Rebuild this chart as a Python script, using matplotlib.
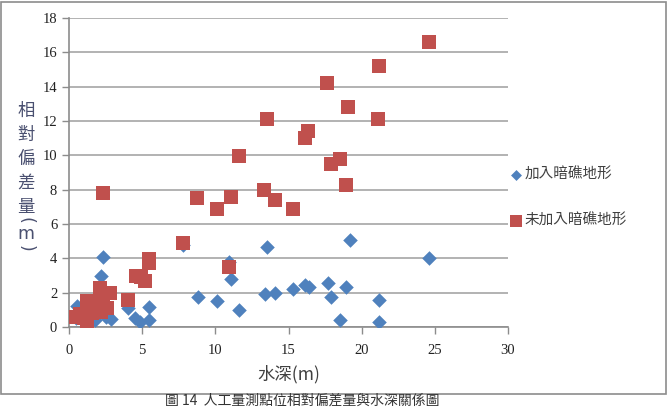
import matplotlib.pyplot as plt
from matplotlib.patches import Rectangle

# 加入暗礁地形 (blue diamonds)
with_reef_x = [24.6, 19.2, 13.5, 2.3, 2.2, 10.9, 11.1, 7.8, 8.8, 10.1, 11.6, 13.4,
               14.1, 15.3, 16.1, 16.4, 17.7, 17.9, 18.5, 18.9, 21.2, 21.2,
               2.9, 4.0, 4.5, 4.85, 5.5, 5.5, 0.55, 1.0, 1.5, 2.0, 2.5, 1.8, 0.5]
with_reef_y = [4.0, 5.05, 4.65, 4.1, 3.0, 3.8, 2.8, 4.8, 1.75, 1.5, 1.0, 1.9,
               2.0, 2.2, 2.45, 2.35, 2.55, 1.75, 0.4, 2.35, 1.6, 0.3,
               0.45, 1.1, 0.55, 0.3, 1.15, 0.4, 1.2, 0.6, 0.9, 1.3, 0.6, 0.4, 0.5]

# 未加入暗礁地形 (red squares)
no_reef_x = [24.6, 21.2, 21.1, 19.1, 17.6, 13.5, 11.6, 16.3, 16.1, 18.5, 17.9,
             18.9, 13.3, 14.1, 15.3, 11.1, 8.75, 10.1, 7.8, 10.9, 2.3,
             5.5, 5.45, 4.6, 4.9, 5.2, 4.0,
             0.4, 0.75, 1.0, 1.2, 1.2, 1.6, 1.9, 2.1, 2.3, 2.8, 2.6, 1.6, 2.2]
no_reef_y = [16.6, 15.2, 12.1, 12.8, 14.2, 12.1, 9.95, 11.4, 11.0, 9.8, 9.5,
             8.3, 8.0, 7.4, 6.9, 7.6, 7.5, 6.9, 4.9, 3.5, 7.8,
             3.95, 3.7, 3.0, 2.9, 2.7, 1.6,
             0.6, 0.75, 0.5, 0.3, 1.5, 1.45, 1.2, 2.3, 1.8, 2.0, 1.1, 0.8, 0.9]

x_ticks = [0, 5, 10, 15, 20, 25, 30]
y_ticks = [0, 2, 4, 6, 8, 10, 12, 14, 16, 18]
y_label_chars = ['相', '對', '偏', '差', '量']

blue = '#4F81BD'
red = '#C0504D'
grey = '#8C8C8C'
cjk = ['Noto Sans CJK TC', 'DejaVu Sans']

# tick numbers are in a Times-like serif
plt.rcParams['font.family'] = ['Liberation Serif']

fig = plt.figure(figsize=(6.69, 4.09), dpi=100)
W, H = 669, 409

# outer frame of the chart object
fig.patches.append(Rectangle((1 / W, 1 - 394 / H), 665 / W, 392 / H,
                             transform=fig.transFigure, fill=False,
                             edgecolor='#8C8C8C', linewidth=1.2))

ax = fig.add_axes([69 / W, 1 - 327 / H, 439 / W, 309 / H])
ax.scatter(with_reef_x, with_reef_y, marker='D', s=55, color=blue,
           linewidths=0, label='加入暗礁地形', zorder=3)
ax.scatter(no_reef_x, no_reef_y, marker='s', s=115, color=red,
           linewidths=0, label='未加入暗礁地形', zorder=4)

ax.set_xlim(0, 30)
ax.set_ylim(0, 18)
ax.set_xticks(x_ticks)
ax.set_yticks(y_ticks)
ax.yaxis.grid(True, color='#A6A6A6', linewidth=1.2)
ax.set_axisbelow(True)
for s in ['top', 'right']:
    ax.spines[s].set_visible(False)
for s in ['left', 'bottom']:
    ax.spines[s].set_color(grey)
    ax.spines[s].set_linewidth(1.2)
ax.tick_params(colors=grey, length=5, width=1, labelcolor='#222222',
               labelsize=10.5)
ax.tick_params(axis='x', pad=7)

ax.set_xlabel('水深(m)', family=cjk, fontsize=12.5, color='#404040', labelpad=6)

# vertical y label, one character per line
ylab_x = 26 / W
for i, ch in enumerate(y_label_chars):
    fig.text(ylab_x, 1 - (111 + i * 24) / H, ch, family=cjk, fontsize=12.5,
             color='#4A5070', ha='center', va='center')
fig.text(ylab_x, 1 - 220 / H, '(', family='DejaVu Sans', fontsize=12.5,
         color='#4A5070', ha='center', va='center', rotation=-90)
fig.text(ylab_x, 1 - 234 / H, 'm', family='DejaVu Sans', fontsize=12.5,
         color='#4A5070', ha='center', va='center')
fig.text(ylab_x, 1 - 248 / H, ')', family='DejaVu Sans', fontsize=12.5,
         color='#4A5070', ha='center', va='center', rotation=-90)

leg = ax.legend(loc='upper left', bbox_to_anchor=(503 / W, 1 - 162 / H),
                bbox_transform=fig.transFigure, frameon=False,
                prop={'family': cjk, 'size': 10.5}, labelspacing=2.2,
                handletextpad=0.1, handlelength=1.0, borderaxespad=0,
                scatterpoints=1, markerscale=0.75)
for t in leg.get_texts():
    t.set_color('#404040')

# figure caption below the frame
fig.text(165 / W, 1 / H, '圖 14  人工量測點位相對偏差量與水深關係圖',
         family=cjk, fontsize=10, color='#333333', ha='left', va='bottom')

fig.savefig('out.png', dpi=100)
